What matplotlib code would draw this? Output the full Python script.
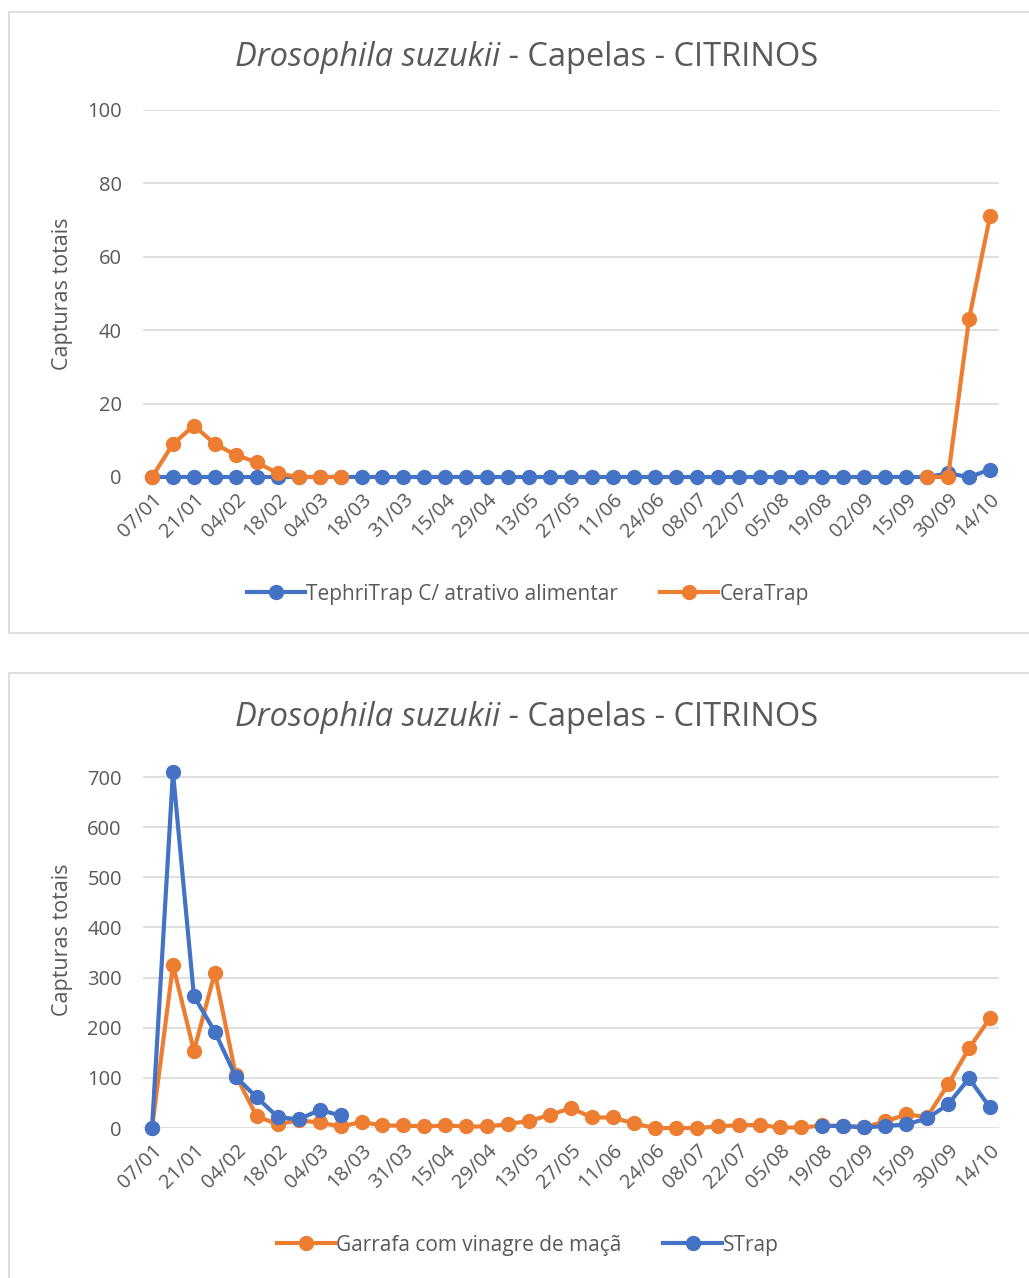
import matplotlib.pyplot as plt
from matplotlib.patches import Rectangle
from matplotlib.transforms import ScaledTranslation

plt.rcParams['font.family'] = ['Open Sans', 'DejaVu Sans']

# 41 sampling dates (labels shown every 2nd date)
tick_labels = ['07/01', '21/01', '04/02', '18/02', '04/03', '18/03', '31/03',
               '15/04', '29/04', '13/05', '27/05', '11/06', '24/06', '08/07',
               '22/07', '05/08', '19/08', '02/09', '15/09', '30/09', '14/10']
n_points = 41

# top chart
tephritrap = [0, 0, 0, 0, 0, 0, 0, 0, 0, 0,
              0, 0, 0, 0, 0, 0, 0, 0, 0, 0,
              0, 0, 0, 0, 0, 0, 0, 0, 0, 0,
              0, 0, 0, 0, 0, 0, 0, 0, 1, 0, 2]
ceratrap = [0, 9, 14, 9, 6, 4, 1, 0, 0, 0] + [None] * 27 + [0, 0, 43, 71]

# bottom chart
garrafa = [0, 325, 154, 310, 105, 23, 8, 15, 11, 3,
           12, 5, 5, 3, 5, 3, 3, 8, 14, 26,
           40, 21, 21, 9, 0, 0, 0, 3, 6, 6,
           1, 1, 5, 4, 2, 13, 27, 22, 87, 159, 219]
strap = [0, 710, 263, 192, 102, 61, 22, 17, 36, 25] + [None] * 22 + \
        [4, 4, 1, 4, 7, 19, 47, 99, 41]

BLUE = '#4472C4'
ORANGE = '#ED7D31'
GRID = '#D9D9D9'
TXT = '#595959'

fig = plt.figure(figsize=(10.29, 12.78), dpi=100)

# chart frames
for y0, y1 in [(12, 633), (673, 1290)]:
    fig.patches.append(Rectangle((9 / 1029, 1 - y1 / 1278), 1.1, (y1 - y0) / 1278,
                                 transform=fig.transFigure, fill=False,
                                 edgecolor=GRID, lw=1.2))


def to_y(v):
    return [float('nan') if a is None else a for a in v]


def style(ax, ymax, ystep):
    x = list(range(n_points))
    ax.set_xlim(-0.45, 40.45)
    ax.set_ylim(0, ymax)
    ax.set_yticks(range(0, ymax + 1 if ymax % ystep == 0 else ymax, ystep))
    ax.set_xticks(x[::2])
    ax.set_xticklabels(tick_labels, rotation=45, ha='right', va='top',
                       rotation_mode='anchor', fontsize=14.5, color=TXT)
    shift = ScaledTranslation(6 / 100, -2 / 100, fig.dpi_scale_trans)
    for lab in ax.get_xticklabels():
        lab.set_transform(lab.get_transform() + shift)
    ax.tick_params(axis='y', labelsize=14.5, labelcolor=TXT, length=0, pad=15)
    ax.tick_params(axis='x', length=0, pad=9)
    for s in ax.spines.values():
        s.set_visible(False)
    ax.grid(axis='y', color=GRID, lw=1.2)
    ax.set_axisbelow(True)
    ax.set_ylabel('Capturas totais', fontsize=15.5, color=TXT, labelpad=10)


def title(y):
    fig.text(500 / 1029, 1 - y / 1278, 'Drosophila suzukii', fontsize=23.5,
             color=TXT, style='italic', ha='right', va='center')
    fig.text(500 / 1029, 1 - y / 1278, ' - Capelas - CITRINOS', fontsize=23.5,
             color=TXT, ha='left', va='center')


def legend(ax, y):
    ax.legend(loc='center', bbox_to_anchor=(0.513, 1 - y / 1278),
              bbox_transform=fig.transFigure, ncol=2, frameon=False,
              fontsize=15, labelcolor=TXT, handlelength=2.8, columnspacing=2.0,
              handletextpad=0.05)


x = list(range(n_points))

# top
ax1 = fig.add_axes([142.6 / 1029, 1 - 477 / 1278, 856.8 / 1029, 367 / 1278])
ax1.plot(x, to_y(tephritrap), color=BLUE, lw=3, marker='o', ms=10,
         label='TephriTrap C/ atrativo alimentar', clip_on=False)
ax1.plot(x, to_y(ceratrap), color=ORANGE, lw=3, marker='o', ms=10,
         label='CeraTrap', clip_on=False)
style(ax1, 100, 20)
title(57)
legend(ax1, 594)

# bottom
ax2 = fig.add_axes([142.6 / 1029, 1 - 1128 / 1278, 856.8 / 1029, 376 / 1278])
ax2.plot(x, to_y(garrafa), color=ORANGE, lw=3, marker='o', ms=10,
         label='Garrafa com vinagre de maçã', clip_on=False)
ax2.plot(x, to_y(strap), color=BLUE, lw=3, marker='o', ms=10,
         label='STrap', clip_on=False)
style(ax2, 750, 100)
title(717)
legend(ax2, 1245)

fig.savefig('out.png', dpi=100)
